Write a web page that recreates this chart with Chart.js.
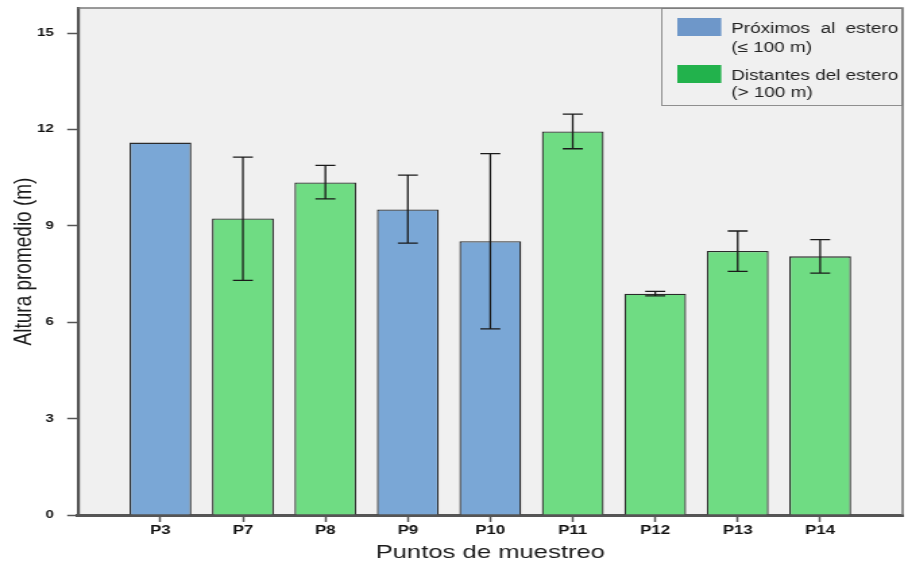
<!DOCTYPE html>
<html>
<head>
<meta charset="utf-8">
<script src="https://cdn.jsdelivr.net/npm/chart.js@4"></script>
<style>
  html, body { margin: 0; padding: 0; background: #ffffff; overflow: hidden; }
  #chart { display: block; }
</style>
</head>
<body>
<!-- drawn at a narrower logical width and stretched sideways to the page width -->
<canvas id="chart" width="673" height="569" style="width:908px;height:569px"></canvas>
<script>
// Sampling points and mean tree height (m) with error-bar limits
const categories = ['P3', 'P7', 'P8', 'P9', 'P10', 'P11', 'P12', 'P13', 'P14'];
const groups     = ['prox', 'dist', 'dist', 'prox', 'prox', 'dist', 'dist', 'dist', 'dist'];
const means      = [11.59, 9.23, 10.35, 9.51, 8.52, 11.94, 6.89, 8.22, 8.05];
const errHigh    = [null, 11.14, 10.88, 10.58, 11.25, 12.48, 6.96, 8.84, 8.57];
const errLow     = [null, 7.30, 9.84, 8.46, 5.79, 11.40, 6.82, 7.58, 7.53];
const yTicks     = [0, 3, 6, 9, 12, 15];
const legendGroups = ['prox', 'dist'];
const legendLines  = [['Próximos al estero', '(≤ 100 m)'], ['Distantes del estero', '(> 100 m)']];

const barFill    = { prox: '#7aa7d6', dist: '#6fdc83' };
const swatchFill = { prox: '#6e97c9', dist: '#22b24c' };
const FONT = "'Liberation Sans', Arial, sans-serif";

// one empty slot on each side of the category axis
const xLabels = ['', ...categories, ''];
const barData = [null, ...means, null];
const barColors = [null, ...groups.map(g => barFill[g]), null];

const plotFrame = {
  id: 'plotFrame',
  beforeDraw(chart) {
    const { ctx, chartArea: a } = chart;
    ctx.save();
    ctx.fillStyle = '#f0f0f0';
    ctx.fillRect(a.left, a.top, a.right - a.left, a.bottom - a.top);
    ctx.restore();
  },
  afterDraw(chart) {
    const { ctx, chartArea: a } = chart;
    ctx.save();
    ctx.strokeStyle = '#7a7a7a';
    ctx.lineWidth = 1.6;
    ctx.beginPath();
    ctx.moveTo(a.left, a.top);
    ctx.lineTo(a.right, a.top);
    ctx.lineTo(a.right, a.bottom);
    ctx.stroke();
    ctx.restore();
  }
};

const errorBars = {
  id: 'errorBars',
  afterDatasetsDraw(chart) {
    const { ctx, scales: { x, y } } = chart;
    const cap = 7.4;
    ctx.save();
    ctx.strokeStyle = '#1a1a1a';
    ctx.lineWidth = 1.3;
    categories.forEach((c, i) => {
      if (errHigh[i] == null || errLow[i] == null) return;
      const px = x.getPixelForValue(i + 1);
      const yh = y.getPixelForValue(errHigh[i]);
      const yl = y.getPixelForValue(errLow[i]);
      ctx.beginPath();
      ctx.moveTo(px, yh); ctx.lineTo(px, yl);
      ctx.moveTo(px - cap, yh); ctx.lineTo(px + cap, yh);
      ctx.moveTo(px - cap, yl); ctx.lineTo(px + cap, yl);
      ctx.stroke();
    });
    ctx.restore();
  }
};

const boxLegend = {
  id: 'boxLegend',
  afterDatasetsDraw(chart) {
    const { ctx, chartArea: a } = chart;
    const left = 490, top = a.top, bottom = 106, right = a.right;
    ctx.save();
    ctx.fillStyle = '#f0f0f0';
    ctx.fillRect(left, top, right - left, bottom - top);
    ctx.strokeStyle = '#8f8f8f';
    ctx.lineWidth = 1;
    ctx.strokeRect(left + 0.5, top + 0.5, right - left - 1, bottom - top - 1);

    ctx.font = '14px ' + FONT;
    ctx.textBaseline = 'alphabetic';
    ctx.textAlign = 'left';
    const firstWidth = Math.max(...legendLines.map(l => ctx.measureText(l[0]).width));
    const swatchY = [18, 65];
    const baselines = [[33, 52], [80, 97]];
    const textX = 542;
    legendGroups.forEach((g, k) => {
      ctx.fillStyle = swatchFill[g];
      ctx.fillRect(502, swatchY[k], 32.6, 18);
      ctx.fillStyle = '#222222';
      legendLines[k].forEach((line, j) => {
        if (j === 0) {
          // spread words so the first lines share one width
          const words = line.split(' ');
          const wordsW = words.reduce((s, w) => s + ctx.measureText(w).width, 0);
          const gap = (firstWidth - wordsW) / (words.length - 1);
          let cx = textX;
          words.forEach(w => {
            ctx.fillText(w, cx, baselines[k][j]);
            cx += ctx.measureText(w).width + gap;
          });
        } else {
          ctx.fillText(line, textX, baselines[k][j]);
        }
      });
    });
    ctx.restore();
  }
};

Chart.defaults.font.family = FONT;

new Chart(document.getElementById('chart'), {
  type: 'bar',
  data: {
    labels: xLabels,
    datasets: [{
      data: barData,
      backgroundColor: barColors,
      borderColor: '#2b2b2b',
      borderWidth: 1.3,
      barPercentage: 0.75,
      categoryPercentage: 1
    }]
  },
  options: {
    responsive: false,
    animation: false,
    layout: { padding: { top: 8, right: 4, left: 0, bottom: 0 } },
    plugins: { legend: { display: false }, tooltip: { enabled: false } },
    scales: {
      x: {
        type: 'category',
        offset: false,
        afterFit(s) { s.height = 54; s.paddingLeft = 0; s.paddingRight = 0; },
        grid: {
          offset: false,
          drawOnChartArea: false,
          tickLength: 7,
          tickWidth: 1.5,
          tickColor: c => (c.index === 0 || c.index === xLabels.length - 1) ? 'rgba(0,0,0,0)' : '#555555'
        },
        border: { display: true, color: '#555555', width: 3 },
        ticks: {
          autoSkip: false, maxRotation: 0, padding: 1,
          color: '#111111',
          font: { size: 12.5, weight: 'bold' }
        },
        title: {
          display: true,
          text: 'Puntos de muestreo',
          color: '#1a1a1a',
          font: { size: 19 },
          padding: { top: 0, bottom: 4.6 }
        }
      },
      y: {
        min: 0,
        max: 15.78,
        afterBuildTicks(s) { s.ticks = yTicks.map(v => ({ value: v })); },
        afterFit(s) { s.width = 57.8; s.paddingTop = 0; s.paddingBottom = 0; },
        grid: { drawOnChartArea: false, tickLength: 8, tickWidth: 1.5, tickColor: '#555555' },
        border: { display: true, color: '#555555', width: 2.2 },
        ticks: {
          padding: 10,
          color: '#111111',
          font: { size: 11, weight: 'bold' }
        },
        title: {
          display: true,
          text: 'Altura promedio (m)',
          color: '#1a1a1a',
          font: { size: 19 },
          padding: { top: 6, bottom: 0 }
        }
      }
    }
  },
  plugins: [plotFrame, errorBars, boxLegend]
});
</script>
</body>
</html>
